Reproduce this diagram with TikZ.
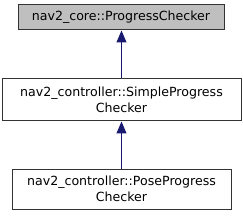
\documentclass[tikz,border=0pt]{standalone}
\usepackage{fontspec}
\setmainfont{DejaVu Sans}
\usetikzlibrary{arrows.meta,positioning}
\definecolor{edgeblue}{HTML}{191970}
\definecolor{basegray}{HTML}{BFBFBF}

\begin{document}
\begin{tikzpicture}[x=1pt, y=-1pt, line width=1pt, every node/.style={draw=black!80, fill=white, align=center, inner sep=0pt, font=\fontsize{12.6}{16.5}\selectfont}]
\useasboundingbox (0,0) rectangle (243,216);
\node[fill=basegray, minimum width=206pt, minimum height=25pt] (core) at (121,17.5) {nav2\_core::ProgressChecker};
\node[minimum width=239pt, minimum height=42pt] (simple) at (121.5,100) {nav2\_controller::SimpleProgress\\Checker};
\node[minimum width=219pt, minimum height=40pt] (pose) at (121.5,189) {nav2\_controller::PoseProgress\\Checker};

\draw[edgeblue, -{Triangle[width=10pt,length=12pt]}] (simple.north) -- (simple.north |- core.south);
\draw[edgeblue, -{Triangle[width=10pt,length=12pt]}] (pose) -- (simple);
\end{tikzpicture}
\end{document}
